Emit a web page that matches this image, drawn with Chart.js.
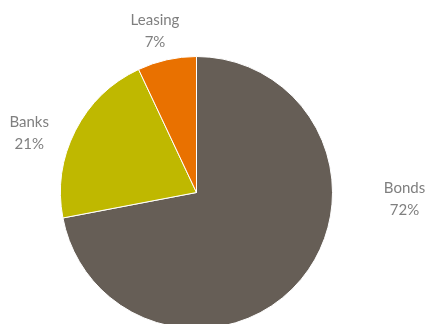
<!DOCTYPE html>
<html>
<head>
<meta charset="utf-8">
<script src="https://cdn.jsdelivr.net/npm/chart.js@4.4.1/dist/chart.umd.min.js"></script>
<style>
  html, body { margin: 0; padding: 0; background: #fff; overflow: hidden; }
  #wrap { position: relative; width: 427px; height: 385px; }
</style>
</head>
<body>
<div id="wrap"><canvas id="fundingPie"></canvas></div>
<script>
// 数据
const categories = ['Bonds', 'Banks', 'Leasing'];
const shares = [72, 21, 7];
const sliceColors = ['#665e56', '#bfb800', '#e97100'];

// 标签位置（相对饼图中心的角度 / 半径倍数）
const labelAngles = [91.8, 289.5, 345.6];
const labelDist = [1.53, 1.305, 1.227];

const outsideLabels = {
    id: 'outsideLabels',
    afterDatasetsDraw(chart) {
        const {ctx} = chart;
        const meta = chart.getDatasetMeta(0);
        ctx.save();
        ctx.font = '15px Lato, "Open Sans", sans-serif';
        ctx.fillStyle = '#7f7f7f';
        ctx.textAlign = 'center';
        ctx.textBaseline = 'middle';
        meta.data.forEach((arc, i) => {
            const a = labelAngles[i] * Math.PI / 180;
            const d = arc.outerRadius * labelDist[i];
            const x = arc.x + Math.sin(a) * d;
            const y = arc.y - Math.cos(a) * d;
            ctx.fillText(categories[i], x, y - 11);
            ctx.fillText(shares[i] + '%', x, y + 11);
        });
        ctx.restore();
    }
};

new Chart(document.getElementById('fundingPie'), {
    type: 'pie',
    data: {
        labels: categories,
        datasets: [{
            data: shares,
            backgroundColor: sliceColors,
            borderColor: '#ffffff',
            borderWidth: 1
        }]
    },
    options: {
        responsive: true,
        maintainAspectRatio: false,
        animation: false,
        layout: {
            padding: {left: 60, right: 94, top: 56, bottom: 56}
        },
        plugins: {
            legend: {display: false},
            tooltip: {enabled: false}
        }
    },
    plugins: [outsideLabels]
});
</script>
</body>
</html>
